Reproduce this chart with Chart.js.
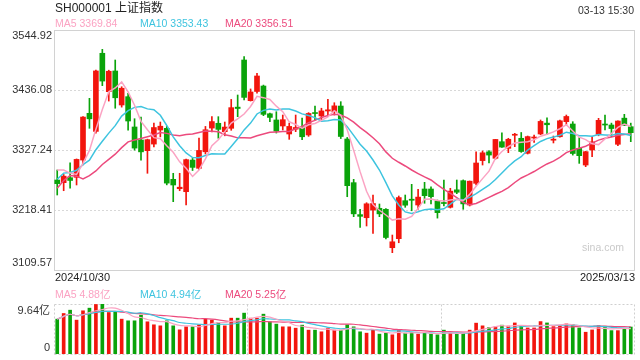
<!DOCTYPE html>
<html>
<head>
<meta charset="utf-8">
<script src="https://cdn.jsdelivr.net/npm/chart.js@4.4.1/dist/chart.umd.min.js"></script>
<style>
    html, body { margin: 0; padding: 0; background: #fff; }
    #wrap { position: relative; width: 640px; height: 360px; }
    #wrap canvas { position: absolute; left: 0; top: 0; }
</style>
</head>
<body>
<div id="wrap">
    <canvas id="kChart" width="640" height="360"></canvas>
    <canvas id="volChart" width="640" height="360"></canvas>
</div>
<script>
// Trading days shown
const dates = [
    '2024/10/30', '2024/10/31', '2024/11/01',
    '2024/11/04', '2024/11/05', '2024/11/06', '2024/11/07', '2024/11/08',
    '2024/11/11', '2024/11/12', '2024/11/13', '2024/11/14', '2024/11/15',
    '2024/11/18', '2024/11/19', '2024/11/20', '2024/11/21', '2024/11/22',
    '2024/11/25', '2024/11/26', '2024/11/27', '2024/11/28', '2024/11/29',
    '2024/12/02', '2024/12/03', '2024/12/04', '2024/12/05', '2024/12/06',
    '2024/12/09', '2024/12/10', '2024/12/11', '2024/12/12', '2024/12/13',
    '2024/12/16', '2024/12/17', '2024/12/18', '2024/12/19', '2024/12/20',
    '2024/12/23', '2024/12/24', '2024/12/25', '2024/12/26', '2024/12/27',
    '2024/12/30', '2024/12/31', '2025/01/02', '2025/01/03',
    '2025/01/06', '2025/01/07', '2025/01/08', '2025/01/09', '2025/01/10',
    '2025/01/13', '2025/01/14', '2025/01/15', '2025/01/16', '2025/01/17',
    '2025/01/20', '2025/01/21', '2025/01/22', '2025/01/23', '2025/01/24',
    '2025/01/27', '2025/02/05', '2025/02/06', '2025/02/07',
    '2025/02/10', '2025/02/11', '2025/02/12', '2025/02/13', '2025/02/14',
    '2025/02/17', '2025/02/18', '2025/02/19', '2025/02/20', '2025/02/21',
    '2025/02/24', '2025/02/25', '2025/02/26', '2025/02/27', '2025/02/28',
    '2025/03/03', '2025/03/04', '2025/03/05', '2025/03/06', '2025/03/07',
    '2025/03/10', '2025/03/11', '2025/03/12', '2025/03/13'
];

const opens = [
    3272.8, 3268.0, 3277.0, 3277.7, 3309.0, 3393.8, 3361.0, 3502.7, 3433.0, 3470.6,
    3408.9, 3424.0, 3369.0, 3345.4, 3326.0, 3338.0, 3363.5, 3366.6, 3274.0, 3257.0,
    3251.6, 3309.0, 3294.0, 3324.0, 3367.0, 3375.7, 3360.5, 3366.6, 3405.0, 3490.5,
    3416.7, 3433.4, 3443.3, 3393.0, 3381.7, 3370.8, 3356.3, 3365.0, 3369.5, 3354.5,
    3395.0, 3389.0, 3398.0, 3396.7, 3407.0, 3347.2, 3268.0, 3210.0, 3204.4, 3218.4,
    3221.5, 3219.7, 3150.0, 3166.4, 3235.3, 3238.0, 3227.5, 3256.5, 3256.5, 3234.7,
    3232.0, 3223.3, 3255.0, 3271.6, 3227.5, 3266.8, 3308.0, 3324.0, 3312.2, 3342.3,
    3330.3, 3354.0, 3348.5, 3321.3, 3349.0, 3356.3, 3376.0, 3345.0, 3351.3, 3378.6,
    3374.4, 3330.3, 3300.0, 3327.3, 3355.7, 3374.0, 3372.6, 3337.6, 3385.0, 3369.5
];
const highs = [
    3291.0, 3283.0, 3304.0, 3311.0, 3388.0, 3421.0, 3472.0, 3509.8, 3472.0, 3490.5,
    3442.0, 3430.0, 3384.0, 3387.0, 3347.0, 3376.0, 3378.0, 3370.0, 3285.0, 3285.0,
    3311.0, 3312.0, 3349.0, 3370.0, 3387.7, 3387.7, 3378.0, 3419.0, 3427.0, 3496.5,
    3438.0, 3466.4, 3445.0, 3394.0, 3396.7, 3390.7, 3376.0, 3390.7, 3385.0, 3395.0,
    3407.0, 3403.0, 3419.3, 3413.0, 3414.9, 3350.0, 3274.0, 3219.7, 3231.6, 3245.6,
    3229.3, 3221.0, 3173.0, 3243.8, 3245.6, 3265.0, 3256.0, 3268.6, 3260.5, 3236.5,
    3272.8, 3257.8, 3272.8, 3273.0, 3271.0, 3324.0, 3325.4, 3326.0, 3346.6, 3358.6,
    3348.5, 3357.5, 3359.0, 3352.6, 3354.5, 3381.7, 3385.8, 3352.6, 3381.7, 3390.7,
    3378.6, 3349.6, 3325.0, 3351.7, 3384.7, 3390.7, 3376.0, 3380.0, 3392.0, 3376.0
];
const lows = [
    3245.6, 3253.4, 3257.8, 3263.8, 3300.0, 3366.6, 3358.0, 3444.0, 3416.0, 3403.0,
    3405.0, 3363.0, 3327.0, 3309.0, 3285.0, 3333.0, 3351.0, 3264.0, 3233.5, 3253.4,
    3227.5, 3290.0, 3292.0, 3320.0, 3360.0, 3348.5, 3353.0, 3363.0, 3387.7, 3418.0,
    3416.0, 3430.5, 3389.5, 3378.6, 3358.0, 3363.5, 3346.6, 3360.5, 3346.0, 3352.0,
    3381.7, 3381.7, 3387.7, 3390.7, 3348.0, 3242.5, 3206.3, 3187.0, 3189.4, 3176.1,
    3206.3, 3166.0, 3141.0, 3159.0, 3223.3, 3217.0, 3219.7, 3230.6, 3229.3, 3203.7,
    3226.0, 3222.0, 3248.0, 3219.7, 3225.7, 3263.8, 3300.0, 3304.0, 3310.4, 3332.0,
    3322.4, 3333.3, 3323.0, 3320.0, 3341.2, 3355.0, 3355.7, 3340.0, 3350.5, 3372.6,
    3318.0, 3303.0, 3297.0, 3315.0, 3353.0, 3363.5, 3351.3, 3335.0, 3371.6, 3342.3
];
const closes = [
    3266.24, 3279.82, 3272.01, 3310.21, 3386.99, 3383.81, 3470.66, 3452.30, 3470.07, 3421.97,
    3439.28, 3379.84, 3330.73, 3323.85, 3346.01, 3367.99, 3370.40, 3267.19, 3263.76, 3259.76,
    3309.78, 3295.70, 3326.46, 3363.98, 3378.81, 3364.65, 3368.86, 3404.08, 3402.53, 3422.66,
    3432.49, 3461.50, 3391.88, 3386.33, 3361.49, 3382.21, 3370.03, 3368.07, 3351.26, 3393.53,
    3393.35, 3398.08, 3400.14, 3407.33, 3351.76, 3262.56, 3211.43, 3206.92, 3229.64, 3230.17,
    3211.39, 3168.52, 3160.76, 3240.94, 3227.12, 3236.03, 3241.82, 3244.38, 3242.62, 3213.62,
    3230.16, 3252.63, 3250.60, 3229.49, 3270.66, 3303.67, 3322.17, 3318.06, 3346.39, 3332.48,
    3346.72, 3355.83, 3324.49, 3351.54, 3350.78, 3379.11, 3373.03, 3346.04, 3380.21, 3388.06,
    3320.90, 3316.93, 3324.21, 3341.96, 3381.10, 3372.55, 3366.16, 3379.83, 3371.92, 3358.73
];
// closes of the 19 sessions before the first candle, needed by the moving averages
const earlierCloses = [
    3000.95, 3087.53, 3336.50, 3489.78, 3258.86, 3301.93, 3217.74, 3284.32, 3234.80, 3202.95,
    3169.38, 3261.56, 3268.11, 3285.87, 3302.80, 3280.26, 3299.70, 3322.20, 3286.41
];
// volume, 亿
const volumes = [
    6.72, 7.81, 8.45, 6.53, 8.33, 8.84, 9.55, 9.64, 8.00, 8.20,
    6.72, 6.40, 6.40, 7.49, 6.21, 5.63, 5.43, 6.40, 5.43, 4.66,
    5.24, 5.24, 5.63, 6.72, 6.53, 6.08, 5.43, 6.91, 6.91, 7.88,
    6.91, 6.91, 7.68, 6.21, 5.76, 5.24, 5.24, 4.98, 5.56, 4.60,
    4.60, 4.28, 4.98, 4.60, 4.60, 5.63, 5.24, 4.28, 4.02, 4.66,
    3.83, 4.02, 3.70, 4.60, 4.02, 4.15, 3.83, 4.15, 3.83, 3.70,
    4.60, 4.02, 3.83, 3.96, 4.60, 5.95, 5.43, 5.11, 5.24, 5.56,
    5.38, 5.99, 5.35, 5.02, 5.02, 6.25, 5.99, 5.28, 5.47, 5.80,
    5.67, 5.02, 4.20, 4.64, 5.47, 5.35, 4.51, 4.51, 4.83, 5.20
];

const priceTicks = [3109.57, 3218.41, 3327.24, 3436.08, 3544.92];
const volumeTicks = [0, 9.64];
const maPeriods = [5, 10, 20];

const upColor = '#f2150d';
const downColor = '#0aa30a';
const maColors = ['#fba3c3', '#3ec4df', '#ec4a7d'];
const FONT = '"Liberation Sans", Arial, "Noto Sans CJK SC", sans-serif';

function movingAverage(values, n, prior) {
    const all = prior.concat(values);
    return values.map((_, i) => {
        const end = prior.length + i + 1;
        const slice = all.slice(Math.max(0, end - n), end);
        return slice.reduce((a, b) => a + b, 0) / slice.length;
    });
}

// 2 decimals, rounding half up (avoids 3356.505 -> 3356.50)
function fmt(v) {
    return (Math.round(v * 100 + 1e-6) / 100).toFixed(2);
}

function drawText(ctx, str, x, y, color, size, align) {
    ctx.save();
    ctx.font = size + 'px ' + FONT;
    ctx.fillStyle = color;
    ctx.textAlign = align || 'left';
    ctx.textBaseline = 'middle';
    ctx.fillText(str, x, y);
    ctx.restore();
}

function dotted(ctx, x1, y1, x2, y2, color) {
    ctx.save();
    ctx.strokeStyle = color;
    ctx.lineWidth = 1;
    ctx.setLineDash([2, 2]);
    ctx.beginPath();
    ctx.moveTo(x1, y1);
    ctx.lineTo(x2, y2);
    ctx.stroke();
    ctx.restore();
}

const candleColors = closes.map((c, i) => (c >= opens[i] ? upColor : downColor));
const priceMA = maPeriods.map(n => movingAverage(closes, n, earlierCloses));
const volumeMA = maPeriods.map(n => movingAverage(volumes, n, []));
const last = dates.length - 1;

function maLines(series, width, tension) {
    return series.map((data, k) => ({
        type: 'line',
        data: data,
        borderColor: maColors[k],
        borderWidth: width,
        pointRadius: 0,
        tension: tension,
        order: 0
    }));
}

const commonOptions = {
    responsive: false,
    animation: false,
    devicePixelRatio: 1,
    plugins: { legend: { display: false }, tooltip: { enabled: false } }
};

// Candlestick panel
const kFrame = {
    id: 'kFrame',
    beforeDatasetsDraw(chart) {
        const { ctx, chartArea: a, scales } = chart;
        priceTicks.slice(1, -1).forEach(v => {
            const y = Math.round(scales.y.getPixelForValue(v)) + 0.5;
            dotted(ctx, a.left, y, a.right, y, '#d8d8d8');
        });
        ctx.save();
        ctx.strokeStyle = '#d2d2d2';
        ctx.lineWidth = 1;
        ctx.strokeRect(Math.round(a.left) + 0.5, Math.round(a.top) + 0.5,
            Math.round(a.right - a.left), Math.round(a.bottom - a.top));
        ctx.restore();
    },
    afterDraw(chart) {
        const { ctx, scales } = chart;
        drawText(ctx, 'SH000001 上证指数', 55, 8.5, '#222', 12);
        drawText(ctx, '03-13 15:30', 634, 11, '#333', 10.5, 'right');
        const labels = ['MA5 ', 'MA10 ', 'MA20 '];
        [55, 140, 225].forEach((x, k) => {
            drawText(ctx, labels[k] + fmt(priceMA[k][last]), x, 24.5, maColors[k], 10.5);
        });
        priceTicks.forEach((v, i) => {
            let y = scales.y.getPixelForValue(v);
            if (i === priceTicks.length - 1) y += 5.5;
            if (i === 0) y -= 7.5;
            drawText(ctx, v.toFixed(2), 52, y, '#333', 11, 'right');
        });
        drawText(ctx, dates[0], 55, 278, '#222', 11);
        drawText(ctx, dates[last], 635, 278, '#222', 11, 'right');
        drawText(ctx, 'sina.com', 582, 248.5, '#cacaca', 10.5);
    }
};

new Chart(document.getElementById('kChart'), {
    type: 'bar',
    data: {
        labels: dates,
        datasets: [
            ...maLines(priceMA, 1.5, 0),
            {
                data: opens.map((o, i) => [o, closes[i]]),
                backgroundColor: candleColors,
                barThickness: 5,
                minBarLength: 1,
                grouped: false,
                order: 1
            },
            {
                data: lows.map((l, i) => [l, highs[i]]),
                backgroundColor: candleColors,
                barThickness: 1,
                grouped: false,
                order: 2
            }
        ]
    },
    options: {
        ...commonOptions,
        layout: { padding: { top: 30, right: 6, bottom: 90, left: 0 } },
        scales: {
            x: { display: false, offset: true },
            y: {
                min: priceTicks[0],
                max: priceTicks[priceTicks.length - 1],
                grid: { display: false },
                border: { display: false },
                ticks: { display: false },
                afterFit(s) { s.width = 54; }
            }
        }
    },
    plugins: [kFrame]
});

// Volume panel
const volFrame = {
    id: 'volFrame',
    beforeDatasetsDraw(chart) {
        const { ctx, chartArea: a } = chart;
        const l = Math.round(a.left) + 0.5, r = Math.round(a.right) + 0.5;
        const t = Math.round(a.top) + 0.5, b = Math.round(a.bottom) + 0.5;
        const c = '#cfcfcf';
        dotted(ctx, l, t, r, t, c);
        dotted(ctx, l, b, r, b, c);
        dotted(ctx, l, t, l, b, c);
        dotted(ctx, r, t, r, b, c);
        [1, 2].forEach(k => {
            const x = Math.round(a.left + (a.right - a.left) * k / 3) + 0.5;
            dotted(ctx, x, t, x, b, c);
        });
    },
    afterDraw(chart) {
        const { ctx, scales } = chart;
        const labels = ['MA5 ', 'MA10 ', 'MA20 '];
        [55, 140, 225].forEach((x, k) => {
            drawText(ctx, labels[k] + fmt(volumeMA[k][last]) + '亿', x, 295, maColors[k], 10.5);
        });
        drawText(ctx, volumeTicks[1].toFixed(2) + '亿', 50, scales.y.getPixelForValue(volumeTicks[1]) + 7, '#333', 11, 'right');
        drawText(ctx, String(volumeTicks[0]), 50, scales.y.getPixelForValue(volumeTicks[0]) - 6, '#333', 11, 'right');
    }
};

new Chart(document.getElementById('volChart'), {
    type: 'bar',
    data: {
        labels: dates,
        datasets: [
            ...maLines(volumeMA, 1.2, 0.3),
            {
                data: volumes,
                backgroundColor: candleColors,
                barThickness: 3,
                order: 1
            }
        ]
    },
    options: {
        ...commonOptions,
        layout: { padding: { top: 304, right: 6, bottom: 6, left: 0 } },
        scales: {
            x: { display: false, offset: true },
            y: {
                min: volumeTicks[0],
                max: volumeTicks[1],
                grid: { display: false },
                border: { display: false },
                ticks: { display: false },
                afterFit(s) { s.width = 54; }
            }
        }
    },
    plugins: [volFrame]
});
</script>
</body>
</html>
